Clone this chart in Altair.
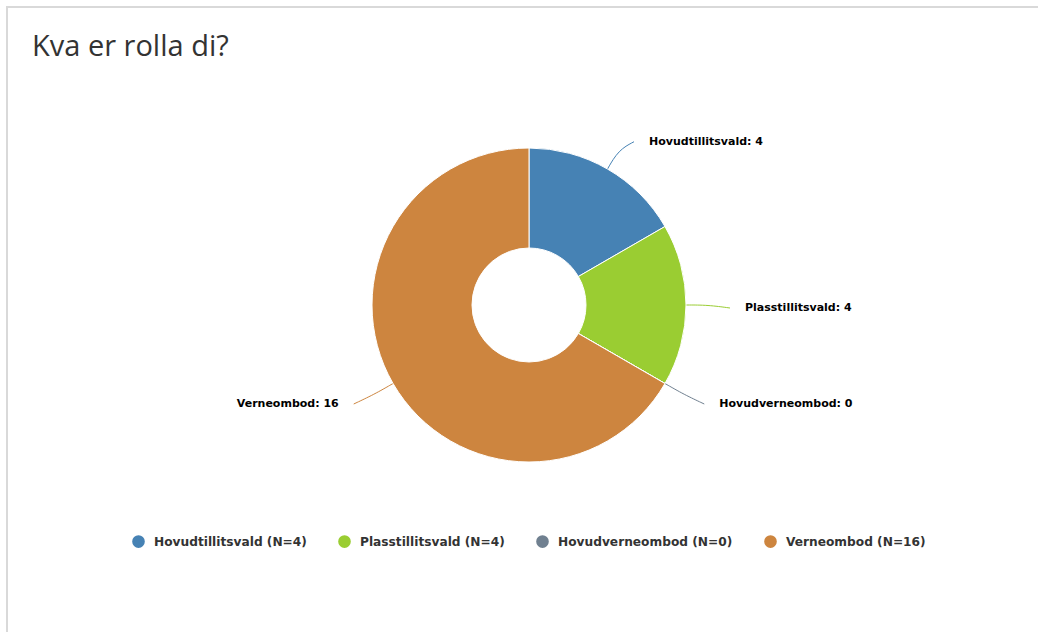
import math
import altair as alt
import pandas as pd

# ---- data ----
TITLE = "Kva er rolla di?"
categories = ["Hovudtillitsvald", "Plasstillitsvald", "Hovudverneombod", "Verneombod"]
values = [4, 4, 0, 16]
colors = ["#4682B4", "#9ACD32", "#708090", "#CD853F"]

# ---- layout (pixels) ----
W, H = 1038, 632
CX, CY = 529, 305
R_OUT, R_IN = 157, 57
R_LX, R_LY = 192, 192

total = sum(values)
legend_labels = [f"{c} (N={v})" for c, v in zip(categories, values)]

slices = pd.DataFrame({
    "idx": list(range(len(categories))),
    "category": categories,
    "value": values,
    "legend": legend_labels,
})

# connector lines + label anchor positions, derived from the data
line_rows, label_rows = [], []
cum = 0
for i, (c, v, col) in enumerate(zip(categories, values, colors)):
    a0 = cum / total * 2 * math.pi
    cum += v
    a1 = cum / total * 2 * math.pi
    mid = (a0 + a1) / 2
    s, co = math.sin(mid), math.cos(mid)
    side = 1 if s >= 0 else -1
    ly = CY - R_LY * co + 3
    ex = CX + R_LX * s + side * 9
    pts = [
        (CX + R_OUT * s, CY - R_OUT * co),
        (CX + (R_OUT + 22) * s, CY - (R_OUT + 22) * co),
        (ex, ly),
    ]
    for k, (px, py) in enumerate(pts):
        line_rows.append({"category": c, "k": k, "px": px, "py": py, "color": col})
    label_rows.append({"category": c, "text": f"{c}: {v}", "px": ex + side * 15,
                       "py": ly, "side": "right" if side > 0 else "left"})

lines_df = pd.DataFrame(line_rows)
labels_df = pd.DataFrame(label_rows)

xs = alt.Scale(domain=[0, W], range=[0, W])
ys = alt.Scale(domain=[0, H], range=[0, H])

arcs = alt.Chart(slices).mark_arc(
    innerRadius=R_IN, outerRadius=R_OUT, stroke="white", strokeWidth=1
).encode(
    x=alt.value(CX),
    y=alt.value(CY),
    theta=alt.Theta("value:Q", stack=True),
    order=alt.Order("idx:Q"),
    color=alt.Color(
        "legend:N",
        scale=alt.Scale(domain=legend_labels, range=colors),
        legend=alt.Legend(
            title=None,
            orient="none",
            direction="horizontal",
            legendX=132,
            legendY=535,
            symbolType="circle",
            symbolSize=160,
            symbolStrokeWidth=0,
            labelFont="DejaVu Sans",
            labelFontWeight="bold",
            labelFontSize=12.2,
            labelColor="#333333",
            labelOffset=9,
            labelLimit=400,
            columnPadding=31,
            padding=0,
        ),
    ),
)

connectors = alt.Chart(lines_df).mark_line(strokeWidth=1, interpolate="basis").encode(
    x=alt.X("px:Q", scale=xs, axis=None),
    y=alt.Y("py:Q", scale=ys, axis=None),
    detail="category:N",
    order="k:Q",
    color=alt.Color("color:N", scale=None),
)

label_base = alt.Chart(labels_df).encode(
    x=alt.X("px:Q", scale=xs, axis=None),
    y=alt.Y("py:Q", scale=ys, axis=None),
    text="text:N",
)
labels_right = label_base.transform_filter(alt.datum.side == "right").mark_text(
    align="left", baseline="middle", font="DejaVu Sans", fontWeight="bold",
    fontSize=11, color="#000000")
labels_left = label_base.transform_filter(alt.datum.side == "left").mark_text(
    align="right", baseline="middle", font="DejaVu Sans", fontWeight="bold",
    fontSize=11, color="#000000")

one = pd.DataFrame({"t": [TITLE]})
title = alt.Chart(one).mark_text(
    align="left", baseline="alphabetic", font="Open Sans", fontSize=29, color="#333333"
).encode(x=alt.value(32), y=alt.value(56), text="t:N")

border_left = alt.Chart(one).mark_rule(color="#d9d9d9", strokeWidth=2).encode(
    x=alt.value(7), y=alt.value(6), y2=alt.value(H))
border_top = alt.Chart(one).mark_rule(color="#d9d9d9", strokeWidth=2).encode(
    x=alt.value(6), x2=alt.value(W), y=alt.value(7))

chart = alt.layer(
    border_left, border_top, title, connectors, arcs, labels_right, labels_left
).properties(
    width=W, height=H, padding=0, autosize=alt.AutoSizeParams(type="none"),
    background="white",
).configure_view(stroke=None)

chart.save("out.html", embed_options={"renderer": "svg", "actions": False})
